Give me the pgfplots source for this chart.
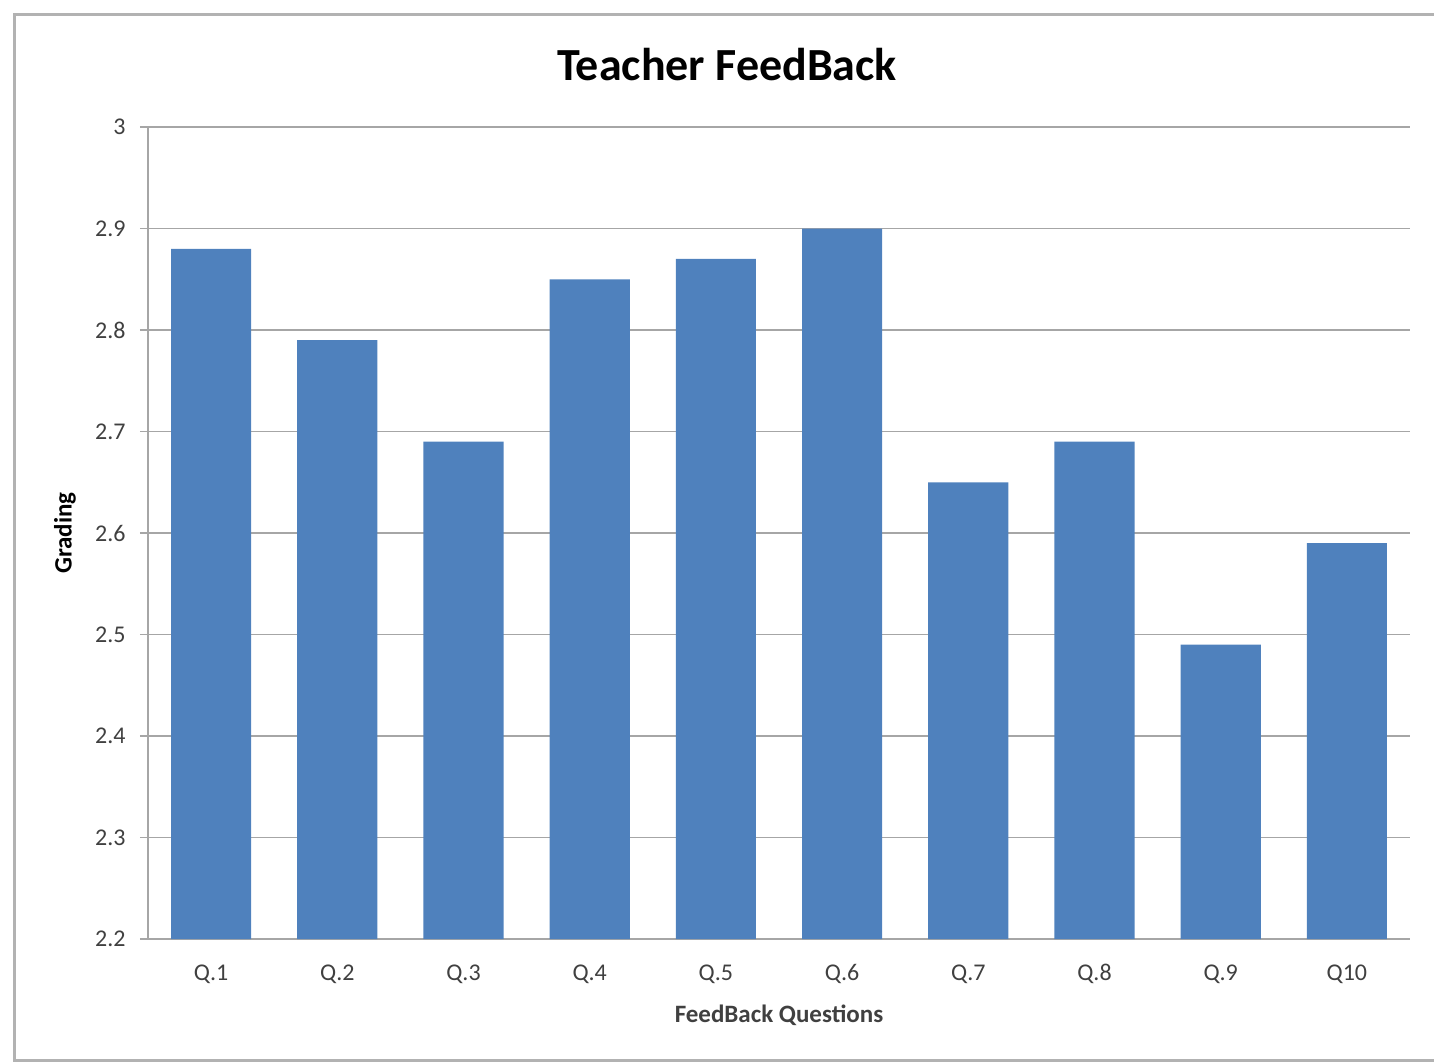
\documentclass[border=0pt]{standalone}
\usepackage{pgfplots}
\pgfplotsset{compat=1.18}
\usepackage{fontspec}
\setmainfont{Carlito}
\definecolor{barblue}{HTML}{4F81BD}
\definecolor{gridgray}{HTML}{A6A6A6}
\definecolor{ticktext}{HTML}{404040}
\begin{document}
\begin{tikzpicture}[x=0.5pt,y=0.5pt]
\useasboundingbox (0,0) rectangle (1434,1062);
% chart area frame
\draw[black!30, line width=1.5pt] (1434,1047) -- (14,1047) -- (14,2) -- (1434,2);
\begin{axis}[
  at={(74pt,61.5pt)}, anchor=south west,
  width=631pt, height=406pt, scale only axis,
  xmin=-0.5, xmax=9.5, ymin=2.2, ymax=3,
  ybar, bar width=0.635,
  axis lines*=left,
  axis line style={gridgray, line width=0.8pt},
  ytick={2.2,2.3,2.4,2.5,2.6,2.7,2.8,2.9,3},
  yticklabels={2.2,2.3,2.4,2.5,2.6,2.7,2.8,2.9,3},
  xtick={0,...,9},
  xticklabels={Q.1,Q.2,Q.3,Q.4,Q.5,Q.6,Q.7,Q.8,Q.9,Q10},
  ymajorgrids, grid style={gridgray, line width=0.8pt},
  tick align=outside, major tick length=4pt,
  ytick style={gridgray, line width=0.8pt},
  xtick style={draw=none},
  tick label style={font=\fontsize{12}{14}\selectfont, text=ticktext},
  xticklabel style={anchor=center, yshift=-13.5pt},
  yticklabel style={anchor=east, inner sep=0pt, xshift=-7pt},
  title={Teacher FeedBack},
  title style={at={(axis description cs:0.4588,1.0616)}, anchor=center,
    font=\fontsize{23}{27}\selectfont\bfseries},
  xlabel={FeedBack Questions},
  xlabel style={at={(axis description cs:0.5,-0.0936)}, anchor=center,
    font=\fontsize{12.5}{15}\selectfont\bfseries, text=ticktext},
  ylabel={Grading},
  ylabel style={at={(axis description cs:-0.0658,0.5)}, anchor=center,
    font=\fontsize{12.5}{15}\selectfont\bfseries},
]
  \addplot[fill=barblue, draw=none] coordinates {
    (0,2.88) (1,2.79) (2,2.69) (3,2.85) (4,2.87)
    (5,2.90) (6,2.65) (7,2.69) (8,2.49) (9,2.59)
  };
\end{axis}
\end{tikzpicture}
\end{document}
